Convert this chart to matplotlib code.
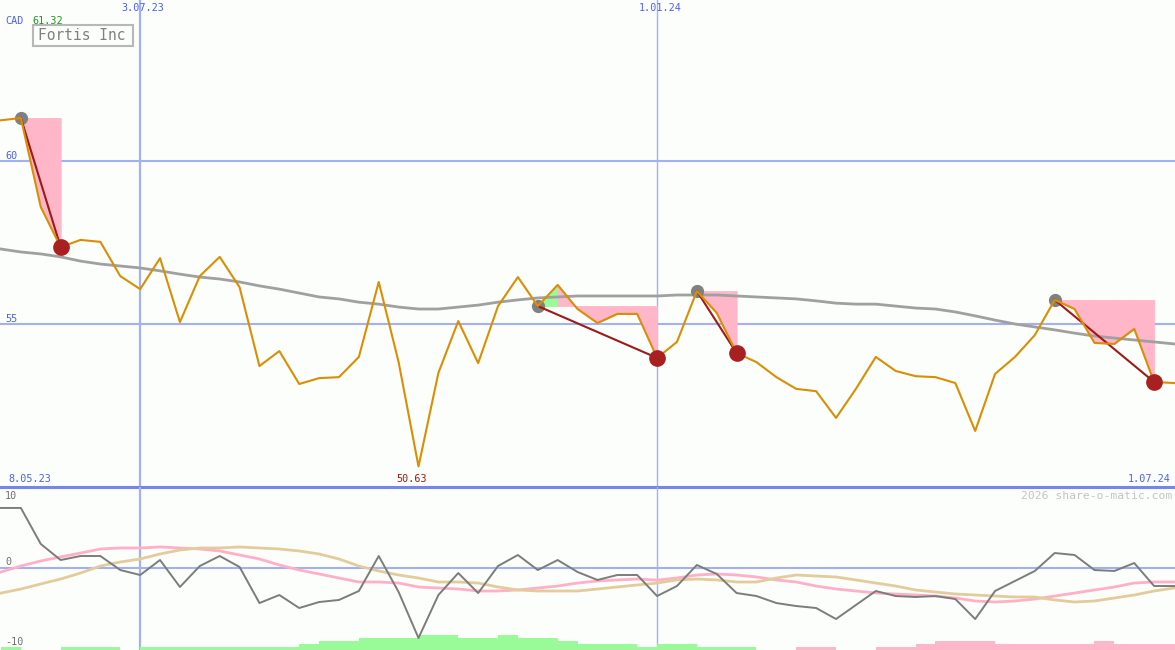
import pandas as pd
import matplotlib
matplotlib.use("Agg")
import matplotlib.pyplot as plt
import matplotlib.dates as mdates
from matplotlib.patches import Rectangle

# weekly closes, Fortis Inc (CAD)
dates = pd.date_range("2023-05-15", periods=60, freq="7D")
price = [61.25, 61.32, 58.59, 57.36, 57.58, 57.52, 56.47, 56.07, 57.02, 55.06,
         56.47, 57.06, 56.13, 53.71, 54.17, 53.16, 53.34, 53.37, 53.99, 56.29,
         53.83, 50.63, 53.50, 55.09, 53.80, 55.55, 56.44, 55.55, 56.20, 55.46,
         55.03, 55.31, 55.31, 53.96, 54.45, 56.01, 55.34, 54.11, 53.83, 53.37,
         53.01, 52.94, 52.12, 53.01, 53.99, 53.56, 53.40, 53.37, 53.19, 51.72,
         53.47, 53.99, 54.66, 55.74, 55.46, 54.42, 54.39, 54.85, 53.22, 53.19]
moving_avg = [57.30, 57.21, 57.15, 57.06, 56.93, 56.84, 56.78, 56.72, 56.63, 56.53,
              56.44, 56.38, 56.29, 56.17, 56.07, 55.95, 55.83, 55.77, 55.67, 55.61,
              55.52, 55.46, 55.46, 55.52, 55.58, 55.67, 55.74, 55.80, 55.83, 55.86,
              55.86, 55.86, 55.86, 55.86, 55.89, 55.89, 55.89, 55.86, 55.83, 55.80,
              55.77, 55.71, 55.64, 55.61, 55.61, 55.55, 55.49, 55.46, 55.37, 55.25,
              55.12, 55.00, 54.91, 54.82, 54.72, 54.63, 54.57, 54.51, 54.45, 54.39]

# lower panel indicators
oscillator = [8.18, 8.18, 3.25, 1.05, 1.60, 1.60, -0.32, -1.00, 1.05, -2.64,
              0.23, 1.60, 0.10, -4.84, -3.74, -5.52, -4.70, -4.42, -3.19, 1.60,
              -3.33, -9.63, -3.74, -0.73, -3.47, 0.23, 1.74, -0.32, 1.05, -0.59,
              -1.68, -1.00, -1.00, -3.88, -2.51, 0.37, -0.86, -3.47, -3.88, -4.84,
              -5.25, -5.52, -7.03, -5.11, -3.19, -3.88, -4.01, -3.88, -4.29, -7.03,
              -3.19, -1.82, -0.45, 2.01, 1.74, -0.32, -0.45, 0.64, -2.51, -2.51]
signal_pink = [-0.59, 0.23, 0.92, 1.47, 2.01, 2.56, 2.70, 2.70, 2.84, 2.70,
               2.56, 2.29, 1.74, 1.19, 0.37, -0.32, -0.86, -1.41, -1.96, -1.96,
               -2.10, -2.64, -2.78, -2.92, -3.19, -3.19, -3.05, -2.78, -2.51, -2.10,
               -1.82, -1.68, -1.55, -1.70, -1.41, -1.00, -0.86, -1.00, -1.27, -1.68,
               -1.96, -2.51, -2.92, -3.19, -3.47, -3.60, -3.74, -3.88, -4.15, -4.56,
               -4.70, -4.56, -4.29, -3.88, -3.47, -3.05, -2.64, -2.10, -1.96, -1.96]
signal_tan = [-3.47, -2.92, -2.23, -1.55, -0.73, 0.23, 0.78, 1.19, 1.88, 2.42,
              2.70, 2.70, 2.84, 2.70, 2.56, 2.29, 1.88, 1.19, 0.23, -0.45,
              -1.00, -1.41, -1.96, -1.96, -2.10, -2.64, -3.05, -3.19, -3.19, -3.19,
              -2.92, -2.64, -2.37, -2.10, -1.68, -1.55, -1.68, -1.96, -1.96, -1.41,
              -1.00, -1.14, -1.27, -1.68, -2.10, -2.51, -3.05, -3.33, -3.60, -3.74,
              -3.88, -4.01, -4.01, -4.42, -4.70, -4.56, -4.15, -3.74, -3.19, -2.78]
# histogram levels (+ green, - pink)
hist = [1, 0, 0, 1, 1, 1, 0, 1, 1, 1,
        1, 1, 1, 1, 1, 2, 3, 3, 4, 4,
        4, 5, 5, 4, 4, 5, 4, 4, 3, 2,
        2, 2, 1, 2, 2, 1, 1, 1, 0, 0,
        -1, -1, 0, 0, -1, -1, -2, -3, -3, -3,
        -2, -2, -2, -2, -2, -3, -2, -2, -2, -2]

# trades: (entry index, exit index)
trades = [(1, 3), (27, 33), (35, 37), (53, 58)]
vlines = ["2023-07-03", "2024-01-01"]

W, H = 1175, 650
BG = "#fcfefb"
GRID = "#a3b1f2"
BLUE = "#4d5ff0"
MONO = "DejaVu Sans Mono"


def px(x, y):
    return x / W, 1 - y / H


x = mdates.date2num(dates)
step = x[1] - x[0]

fig = plt.figure(figsize=(W / 100, H / 100), dpi=100, facecolor=BG)
ax = fig.add_axes([0, 163 / H, 1, 487 / H])
ax2 = fig.add_axes([0, 0, 1, 163 / H])
for a in (ax, ax2):
    a.set_facecolor(BG)
    a.set_xlim(x[0] - 0.05 * step, x[-1] + 0.05 * step)
    a.axis("off")
    for d in vlines:
        a.axvline(mdates.date2num(pd.Timestamp(d)), color=GRID,
                  lw=1.6 if d.startswith("2023") else 1.0, zorder=0)

# main panel
ax.set_ylim(50.0, 64.94)
for lvl in (60, 55):
    ax.axhline(lvl, color=GRID, lw=1.5, zorder=0)
ax.axhline(50.0, color="#7585ea", lw=2.2, zorder=5, clip_on=False)

for a_i, b_i in trades:
    level = price[a_i]
    for k in range(a_i, b_i):
        col = "#98fb98" if price[k + 1] > level else "#ffb6c8"
        ax.fill_between(x[k:k + 2], price[k:k + 2], level, facecolor=col,
                        edgecolor=col, lw=0.6, zorder=1)

ax.plot(x, moving_avg, color="#a0a0a0", lw=2.0, zorder=2)
for a_i, b_i in trades:
    ax.plot(x[a_i], price[a_i], "o", color="#808080", ms=8.5, zorder=2.5)
    ax.plot([x[a_i], x[b_i]], [price[a_i], price[b_i]], color="#a01818", lw=1.5, zorder=3)
ax.plot(x, price, color="#d98e04", lw=1.5, zorder=4)
for a_i, b_i in trades:
    ax.plot(x[b_i], price[b_i], "o", color="#a82020", ms=11, zorder=6)

# lower panel
ax2.set_ylim(-11.27, 11.05)
ax2.axhline(0, color=GRID, lw=1.5, zorder=0)
unit = 0.41
for xi, h in zip(x, hist):
    if h == 0:
        continue
    ax2.bar(xi, abs(h) * unit, width=step, align="edge", bottom=-11.27,
            color="#98fb98" if h > 0 else "#ffb6c8", lw=0, zorder=1)
ax2.plot(x, signal_pink, color="#ffb0c8", lw=2.0, zorder=2)
ax2.plot(x, signal_tan, color="#e3cc9c", lw=2.0, zorder=2)
ax2.plot(x, oscillator, color="#7c7c7c", lw=1.4, zorder=3)

# texts
fs = 7.3
fig.text(*px(5, 21), "CAD", color=BLUE, fontsize=fs, family=MONO, va="center")
fig.text(*px(32, 21), "61.32", color="#1c9a1c", fontsize=fs, family=MONO, va="center")
fig.text(*px(143, 8), "3.07.23", color=BLUE, fontsize=fs, family=MONO, va="center", ha="center")
fig.text(*px(660, 8), "1.01.24", color=BLUE, fontsize=fs, family=MONO, va="center", ha="center")
fig.text(*px(5, 156), "60", color=BLUE, fontsize=fs, family=MONO, va="center")
fig.text(*px(5, 319), "55", color=BLUE, fontsize=fs, family=MONO, va="center")
fig.text(*px(8, 479), "8.05.23", color=BLUE, fontsize=fs, family=MONO, va="center")
fig.text(*px(412, 479), "50.63", color="#a01818", fontsize=fs, family=MONO, va="center", ha="center")
fig.text(*px(1171, 479), "1.07.24", color=BLUE, fontsize=fs, family=MONO, va="center", ha="right")
fig.text(*px(1172, 496), "2026 share-o-matic.com", color="#c4c4c4", fontsize=8.2,
         family=MONO, va="center", ha="right")
for lab, yy in (("10", 496), ("0", 562), ("-10", 642)):
    fig.text(*px(5, yy), lab, color="#707070", fontsize=fs, family=MONO, va="center")

bx0, by0 = px(33, 46)
fig.patches.append(Rectangle((bx0, by0), 100 / W, 21 / H, transform=fig.transFigure,
                             facecolor=BG, edgecolor="#b8b8b8", lw=1.5, zorder=10))
fig.text(*px(82, 36), "Fortis Inc", color="#808080", fontsize=10.5, family=MONO,
         va="center", ha="center", zorder=11)

fig.savefig("out.png", dpi=100, facecolor=BG)
